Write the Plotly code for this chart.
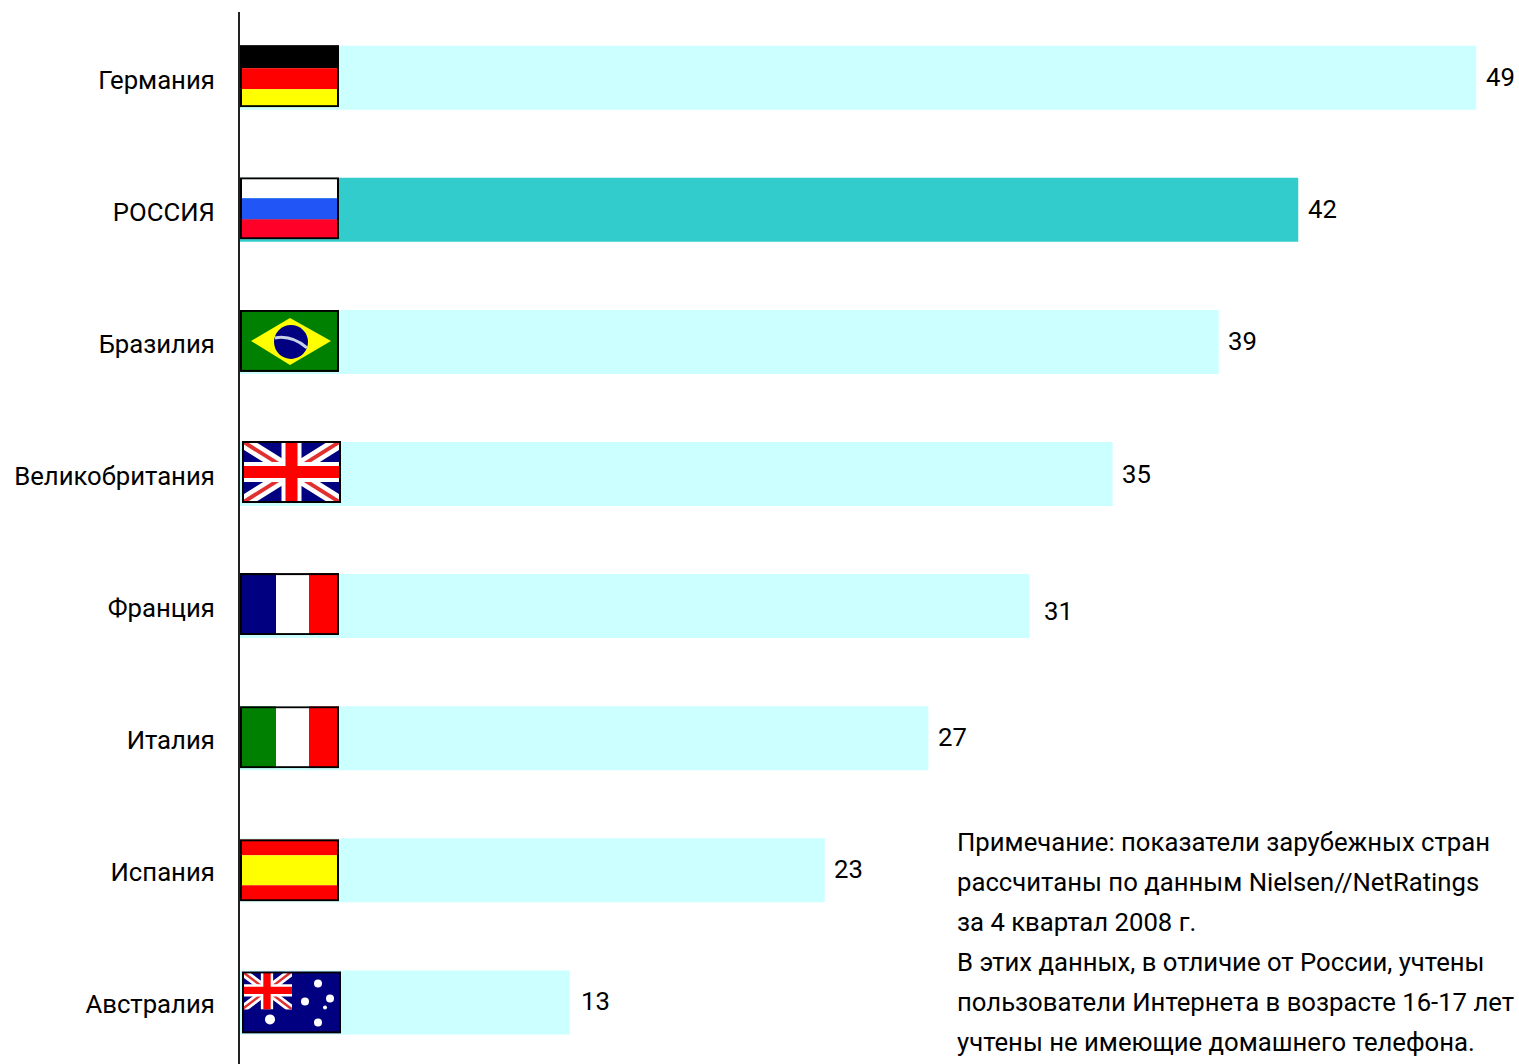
import base64
import plotly.graph_objects as go

# ---------- data ----------
COUNTRIES = ["Германия", "РОССИЯ", "Бразилия", "Великобритания",
             "Франция", "Италия", "Испания", "Австралия"]
VALUES = [49.0, 41.95, 38.8, 34.6, 31.3, 27.3, 23.2, 13.1]
VALUE_LABELS = ["49", "42", "39", "35", "31", "27", "23", "13"]
LABEL_DX = [8, 8, 7, 7, 13, 8, 7, 9]
LABEL_DY = [1, 1, 1, 0, -5, 1, 1, 1]
NOTE_LINES = [
    "Примечание: показатели зарубежных стран",
    "рассчитаны по данным Nielsen//NetRatings",
    "за 4 квартал 2008 г.",
    "В этих данных, в отличие от России, учтены",
    "пользователи Интернета в возрасте 16-17 лет",
    "учтены не имеющие домашнего телефона.",
]
NOTE_CENTERS_PX = [842, 882, 922, 962, 1002, 1042]

# ---------- style ----------
W, H = 1519, 1064
ZERO_X, AXIS_X, AXIS_TOP = 239, 240, 12
PX_PER_UNIT = 25.25
BAR_PITCH = 132.1
FIRST_BAR_PX = 77.7
LIGHT, HIGHLIGHT = "#CCFFFF", "#33CCCC"
FONT = "Roboto, sans-serif"
FONT_SIZE = 25.7


def svg(body):
    s = f'<svg xmlns="http://www.w3.org/2000/svg" width="99" height="62" viewBox="0 0 99 62">{body}' \
        '<rect x="1" y="1" width="97" height="60" fill="none" stroke="#000" stroke-width="2"/></svg>'
    return "data:image/svg+xml;base64," + base64.b64encode(s.encode()).decode()


def hstripes(*bands):
    return "".join(f'<rect x="0" y="{y}" width="99" height="{h}" fill="{c}"/>' for y, h, c in bands)


def vstripes(a, b, c):
    return (f'<rect x="0" y="0" width="36" height="62" fill="{a}"/>'
            f'<rect x="36" y="0" width="33" height="62" fill="{b}"/>'
            f'<rect x="69" y="0" width="30" height="62" fill="{c}"/>')


def union(w, h):
    sw = h / 62
    return (f'<path d="M0 0L{w} {h}M{w} 0L0 {h}" stroke="#fff" stroke-width="{13*sw}"/>'
            f'<path d="M0 0L{w} {h}M{w} 0L0 {h}" stroke="#e03030" stroke-width="{4*sw}"/>'
            f'<path d="M{w/2} 0V{h}M0 {h/2}H{w}" stroke="#fff" stroke-width="{20*sw}"/>'
            f'<path d="M{w/2} 0V{h}M0 {h/2}H{w}" stroke="#ff0000" stroke-width="{12*sw}"/>')


def stars(points):
    return "".join(f'<circle cx="{x}" cy="{y}" r="{r}" fill="#fff"/>' for x, y, r in points)


FLAGS = [
    svg(hstripes((0, 23, "#000"), (23, 21, "#ff0000"), (44, 18, "#ffff00"))),
    svg(hstripes((0, 21, "#ffffff"), (21, 21, "#2255f5"), (42, 20, "#ff0028"))),
    svg('<rect width="99" height="62" fill="#008000"/>'
        '<path d="M11 31L50 8L91 31L50 55Z" fill="#ffff00"/>'
        '<circle cx="51" cy="32" r="17" fill="#000080"/>'
        '<path d="M35 28Q52 25 67 38" stroke="#c8d0e8" stroke-width="3" fill="none"/>'),
    svg('<rect width="99" height="62" fill="#000080"/>' + union(99, 62)),
    svg(vstripes("#000080", "#ffffff", "#ff0000")),
    svg(vstripes("#008000", "#ffffff", "#ff0000")),
    svg(hstripes((0, 16, "#ff0000"), (16, 30, "#ffff00"), (46, 16, "#ff0000"))),
    svg('<rect width="99" height="62" fill="#000080"/>'
        '<svg x="0" y="0" width="50" height="38" viewBox="0 0 50 38">' + union(50, 38) + '</svg>'
        + stars([(28, 48, 5), (76, 12, 4), (63, 30, 4), (88, 27, 4), (83, 36, 2), (76, 51, 4)])),
]
FLAG_LEFT_PX = [240, 240, 240, 242, 240, 240, 240, 242]
FLAG_DY_PX = [-1.5, -1.5, -1, -2, -2, -1, 0, 0]

colors = [HIGHLIGHT if c == "РОССИЯ" else LIGHT for c in COUNTRIES]

fig = go.Figure(go.Bar(
    x=VALUES, y=COUNTRIES, orientation="h",
    marker=dict(color=colors, line=dict(width=0)),
    width=64 / BAR_PITCH, hoverinfo="skip",
))

annotations = [
    dict(x=v, y=c, xref="x", yref="y", text=t, showarrow=False, xanchor="left",
         yanchor="middle", xshift=dx, yshift=dy, font=dict(family=FONT, size=FONT_SIZE, color="#000"))
    for v, c, t, dx, dy in zip(VALUES, COUNTRIES, VALUE_LABELS, LABEL_DX, LABEL_DY)
]
plot_h = H - AXIS_TOP
for line, cy in zip(NOTE_LINES, NOTE_CENTERS_PX):
    annotations.append(dict(
        x=(957 - AXIS_X) / (W - AXIS_X), y=(H - cy) / plot_h, xref="paper", yref="paper",
        text=line, showarrow=False, xanchor="left", yanchor="middle", align="left",
        borderpad=0, borderwidth=0, font=dict(family=FONT, size=FONT_SIZE, color="#000"),
    ))

images = [
    dict(source=src, xref="x", yref="y",
         x=(left - ZERO_X) / PX_PER_UNIT, y=i + dy / BAR_PITCH,
         sizex=99 / PX_PER_UNIT, sizey=62 / BAR_PITCH,
         xanchor="left", yanchor="middle", sizing="stretch", layer="above")
    for i, (src, left, dy) in enumerate(zip(FLAGS, FLAG_LEFT_PX, FLAG_DY_PX))
]

fig.update_layout(
    width=W, height=H,
    margin=dict(l=AXIS_X, r=0, t=AXIS_TOP, b=0, pad=0, autoexpand=False),
    paper_bgcolor="#ffffff", plot_bgcolor="#ffffff",
    showlegend=False,
    annotations=annotations,
    images=images,
    xaxis=dict(range=[(AXIS_X - ZERO_X) / PX_PER_UNIT, (W - ZERO_X) / PX_PER_UNIT],
               visible=False, fixedrange=True),
    yaxis=dict(
        type="category", categoryorder="array", categoryarray=COUNTRIES, automargin=False,
        range=[(H - FIRST_BAR_PX) / BAR_PITCH, (AXIS_TOP - FIRST_BAR_PX) / BAR_PITCH],
        showline=True, linecolor="#222222", linewidth=2, showgrid=False, zeroline=False,
        ticks="", ticklabelstandoff=18, ticklabelshift=-2, fixedrange=True,
        tickfont=dict(family=FONT, size=FONT_SIZE, color="#000"),
    ),
)

fig.write_html("out.html", config=dict(displayModeBar=False),
               post_script="document.body.style.margin='0';document.body.style.overflow='hidden';")
